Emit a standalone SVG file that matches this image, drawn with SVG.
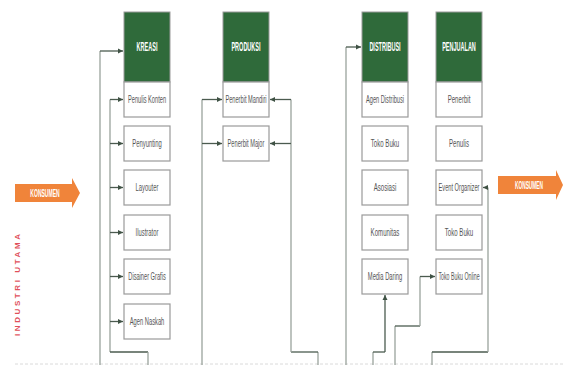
<svg xmlns="http://www.w3.org/2000/svg" width="564" height="365" viewBox="0 0 564 365">
<defs>
<marker id="ah" markerUnits="userSpaceOnUse" markerWidth="6" markerHeight="6" refX="5" refY="3" orient="auto">
<path d="M0,0.5 L5,3 L0,5.5 z" fill="#3f5244"/>
</marker>
<style>
.hd{fill:#2f6a3a;stroke:#9a9a9a;stroke-width:1}
.bx{fill:#ffffff;stroke:#9a9a9a;stroke-width:1.2}
.ht{font-family:"Liberation Sans",Arial,sans-serif;font-weight:bold;font-size:12px;fill:#ffffff;text-anchor:middle}
.lb{font-family:"Liberation Sans",Arial,sans-serif;font-size:10.5px;fill:#555555;text-anchor:middle}
.ks{font-family:"Liberation Sans",Arial,sans-serif;font-size:10.5px;font-weight:bold;fill:#ffffff;text-anchor:middle}
.v{fill:none;stroke:#9aa39c;stroke-width:1.3}
.h{fill:none;stroke:#4b5b4f;stroke-width:1.3}
.a{fill:none;stroke:#4b5b4f;stroke-width:1.3;marker-end:url(#ah)}
.ar{fill:#f0843a}
</style>
</defs>
<rect width="564" height="365" fill="#ffffff"/>
<line x1="15" y1="364" x2="564" y2="364" stroke="#d0d0d0" stroke-width="0.8" stroke-dasharray="3,2"/>

<g id="konsumen-left">
<path class="ar" d="M15,184 H72 V178 L80,193 L72,208 V202 H15 z"/>
<text class="ks" transform="translate(45,197) scale(0.48,1)">KONSUMEN</text>
</g>
<g id="konsumen-right">
<path class="ar" d="M498,176 H556 V170 L563,185 L556,200 V194 H498 z"/>
<text class="ks" transform="translate(529,189) scale(0.46,1)">KONSUMEN</text>
</g>
<g id="industri-utama">
<text transform="translate(20,336) rotate(-90)" font-family="Liberation Sans, Arial, sans-serif" font-size="8" font-weight="bold" fill="#e0505a" textLength="102" lengthAdjust="spacing">INDUSTRI UTAMA</text>
</g>

<g id="connectors">
<path class="v" d="M100,365 V51"/>
<path class="a" d="M100,51 H123"/>
<path class="v" d="M110,352 V99.5"/>
<path class="h" d="M110,352 H148"/>
<path class="v" d="M148,352 V365"/>
<path class="a" d="M110,99.5 H123"/>
<path class="a" d="M110,143.5 H123"/>
<path class="a" d="M110,187.5 H123"/>
<path class="a" d="M110,232.5 H123"/>
<path class="a" d="M110,276.5 H123"/>
<path class="a" d="M110,321.5 H123"/>
<path class="v" d="M202,365 V99.5"/>
<path class="a" d="M202,99.5 H222"/>
<path class="a" d="M202,143.5 H222"/>
<path class="v" d="M318,365 V352"/>
<path class="h" d="M318,352 H291"/>
<path class="v" d="M291,352 V99.5"/>
<path class="a" d="M291,99.5 H270"/>
<path class="a" d="M291,143.5 H270"/>
<path class="v" d="M346,365 V47"/>
<path class="a" d="M346,47 H361"/>
<path class="v" d="M373,365 V352"/>
<path class="h" d="M373,352 H385"/>
<path class="a" d="M385,352 V295"/>
<path class="v" d="M395,365 V326"/>
<path class="h" d="M395,326 H420"/>
<path class="v" d="M420,326 V276.5"/>
<path class="a" d="M420,276.5 H435"/>
<path class="v" d="M432,365 V352"/>
<path class="h" d="M432,352 H488"/>
<path class="v" d="M488,352 V187.5"/>
<path class="a" d="M488,187.5 H483"/>
</g>

<g id="kreasi">
<rect class="hd" x="124" y="12" width="46" height="70"/>
<text class="ht" transform="translate(147,51) scale(0.46,1)">KREASI</text>
</g>
<g id="penulis-konten"><rect class="bx" x="124" y="82" width="46" height="35"/><text class="lb" transform="translate(147,103) scale(0.54,1)">Penulis Konten</text></g>
<g id="penyunting"><rect class="bx" x="124" y="126" width="46" height="35"/><text class="lb" transform="translate(147,147) scale(0.56,1)">Penyunting</text></g>
<g id="layouter"><rect class="bx" x="124" y="170" width="46" height="35"/><text class="lb" transform="translate(147,191) scale(0.56,1)">Layouter</text></g>
<g id="ilustrator"><rect class="bx" x="124" y="215" width="46" height="35"/><text class="lb" transform="translate(147,236) scale(0.56,1)">Ilustrator</text></g>
<g id="disainer-grafis"><rect class="bx" x="124" y="259" width="46" height="35"/><text class="lb" transform="translate(147,280) scale(0.54,1)">Disainer Grafis</text></g>
<g id="agen-naskah"><rect class="bx" x="124" y="304" width="46" height="35"/><text class="lb" transform="translate(147,325) scale(0.55,1)">Agen Naskah</text></g>

<g id="produksi">
<rect class="hd" x="223" y="12" width="46" height="70"/>
<text class="ht" transform="translate(246,51) scale(0.46,1)">PRODUKSI</text>
</g>
<g id="penerbit-mandiri"><rect class="bx" x="223" y="82" width="46" height="35"/><text class="lb" transform="translate(246,103) scale(0.54,1)">Penerbit Mandiri</text></g>
<g id="penerbit-major"><rect class="bx" x="223" y="126" width="46" height="35"/><text class="lb" transform="translate(246,147) scale(0.54,1)">Penerbit Major</text></g>

<g id="distribusi">
<rect class="hd" x="362" y="12" width="46" height="70"/>
<text class="ht" transform="translate(385,51) scale(0.46,1)">DISTRIBUSI</text>
</g>
<g id="agen-distribusi"><rect class="bx" x="362" y="82" width="46" height="35"/><text class="lb" transform="translate(385,103) scale(0.54,1)">Agen Distribusi</text></g>
<g id="toko-buku-d"><rect class="bx" x="362" y="126" width="46" height="35"/><text class="lb" transform="translate(385,147) scale(0.58,1)">Toko Buku</text></g>
<g id="asosiasi"><rect class="bx" x="362" y="170" width="46" height="35"/><text class="lb" transform="translate(385,191) scale(0.58,1)">Asosiasi</text></g>
<g id="komunitas"><rect class="bx" x="362" y="215" width="46" height="35"/><text class="lb" transform="translate(385,236) scale(0.58,1)">Komunitas</text></g>
<g id="media-daring"><rect class="bx" x="362" y="259" width="46" height="35"/><text class="lb" transform="translate(385,280) scale(0.55,1)">Media Daring</text></g>

<g id="penjualan">
<rect class="hd" x="436" y="12" width="46" height="70"/>
<text class="ht" transform="translate(459,51) scale(0.46,1)">PENJUALAN</text>
</g>
<g id="penerbit"><rect class="bx" x="436" y="82" width="46" height="35"/><text class="lb" transform="translate(459,103) scale(0.58,1)">Penerbit</text></g>
<g id="penulis"><rect class="bx" x="436" y="126" width="46" height="35"/><text class="lb" transform="translate(459,147) scale(0.58,1)">Penulis</text></g>
<g id="event-organizer"><rect class="bx" x="436" y="170" width="46" height="35"/><text class="lb" transform="translate(459,191) scale(0.54,1)">Event Organizer</text></g>
<g id="toko-buku-p"><rect class="bx" x="436" y="215" width="46" height="35"/><text class="lb" transform="translate(459,236) scale(0.58,1)">Toko Buku</text></g>
<g id="toko-buku-online"><rect class="bx" x="436" y="259" width="46" height="35"/><text class="lb" transform="translate(459,280) scale(0.5,1)">Toko Buku Online</text></g>
</svg>
